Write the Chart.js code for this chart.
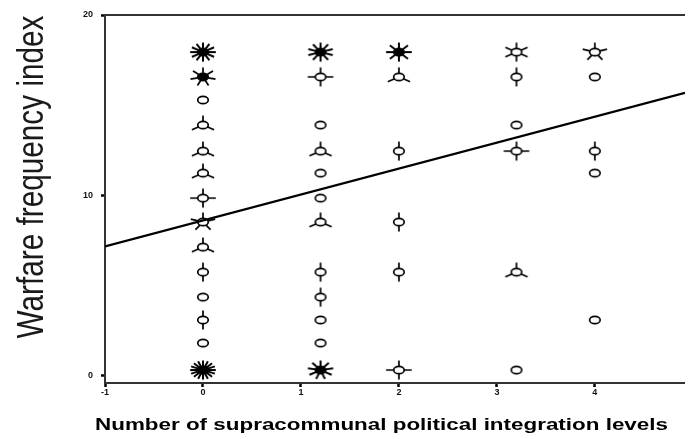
<!DOCTYPE html>
<html>
<head>
<meta charset="utf-8">
<script src="https://cdn.jsdelivr.net/npm/chart.js@4"></script>
<style>
  html, body { margin: 0; padding: 0; background: #fff; }
  #wrap { width: 690px; height: 439px; }
</style>
</head>
<body>
<div id="wrap"><canvas id="chart" width="690" height="439"></canvas></div>
<script>
const xTicks = [-1, 0, 1, 2, 3, 4];
const yTicks = [0, 10, 20];
const xTitle = 'Number of supracommunal political integration levels';
const yTitle = 'Warfare frequency index';

// sunflower cells: position, value, number of cases (petals)
const cellX = [
    0, 0, 0, 0, 0, 0, 0, 0, 0, 0, 0, 0, 0, 0,
    1.2, 1.2, 1.2, 1.2, 1.2, 1.2, 1.2, 1.2, 1.2, 1.2, 1.2, 1.2,
    2, 2, 2, 2, 2, 2,
    3.2, 3.2, 3.2, 3.2, 3.2, 3.2,
    4, 4, 4, 4, 4
];
const cellY = [
    17.94, 16.56, 15.28, 13.89, 12.44, 11.22, 9.83, 8.5, 7.11, 5.72, 4.33, 3.06, 1.78, 0.28,
    17.94, 16.56, 13.89, 12.44, 11.22, 9.83, 8.5, 5.72, 4.33, 3.06, 1.78, 0.28,
    17.94, 16.56, 12.44, 8.5, 5.72, 0.28,
    17.94, 16.56, 13.89, 12.44, 5.72, 0.28,
    17.94, 16.56, 12.44, 11.22, 3.06
];
const cellCount = [
    12, 7, 1, 3, 3, 3, 4, 5, 3, 2, 1, 2, 1, 16,
    10, 4, 1, 3, 1, 1, 3, 2, 2, 1, 1, 9,
    8, 3, 2, 2, 2, 4,
    6, 2, 1, 4, 3, 1,
    5, 1, 2, 1, 1
];

// fit line end points
const fitX = [-1, 4.92];
const fitY = [7.15, 15.68];

// build one sunflower glyph per petal count
const flowers = {};
function sunflower(n) {
    if (flowers[n]) return flowers[n];
    const c = document.createElement('canvas');
    c.width = 36;
    c.height = 28;
    const g = c.getContext('2d');
    const sx = 1.35;
    g.translate(18, 14);
    g.strokeStyle = '#000';
    g.fillStyle = '#000';
    g.lineWidth = 1.7;
    g.beginPath();
    g.ellipse(0, 0, 3.9 * sx, 3.7, 0, 0, Math.PI * 2);
    if (n >= 7) g.fill();
    g.stroke();
    if (n > 1) {
        g.lineWidth = n >= 8 ? 2 : 1.7;
        g.beginPath();
        for (let k = 0; k < n; k++) {
            const a = -Math.PI / 2 + k * 2 * Math.PI / n;
            g.moveTo(Math.cos(a) * 3.6 * sx, Math.sin(a) * 3.6);
            g.lineTo(Math.cos(a) * 9.5 * sx, Math.sin(a) * 9.5);
        }
        g.stroke();
    }
    flowers[n] = c;
    return c;
}

const framePlugin = {
    id: 'frame',
    beforeDatasetsDraw(chart) {
        const { ctx, chartArea: a } = chart;
        ctx.save();
        ctx.strokeStyle = '#333';
        ctx.lineWidth = 2;
        ctx.beginPath();
        ctx.moveTo(a.right, a.top);
        ctx.lineTo(a.left, a.top);
        ctx.lineTo(a.left, a.bottom);
        ctx.lineTo(a.right, a.bottom);
        ctx.stroke();
        ctx.restore();
    },
    afterDraw(chart) {
        const ctx = chart.ctx;
        ctx.save();
        ctx.fillStyle = '#1a1a1a';
        ctx.textAlign = 'center';
        ctx.textBaseline = 'alphabetic';
        ctx.font = '36px "Liberation Sans", Arial, sans-serif';
        let w = ctx.measureText(yTitle).width;
        ctx.translate(43, 177);
        ctx.rotate(-Math.PI / 2);
        ctx.scale(323 / w, 1);
        ctx.fillText(yTitle, 0, 0);
        ctx.restore();

        ctx.save();
        ctx.fillStyle = '#000';
        ctx.textAlign = 'left';
        ctx.font = 'bold 17px "Liberation Sans", Arial, sans-serif';
        w = ctx.measureText(xTitle).width;
        ctx.translate(95, 430);
        ctx.scale(573 / w, 1);
        ctx.fillText(xTitle, 0, 0);
        ctx.restore();
    }
};

const tickFont = { family: '"Liberation Sans", Arial, sans-serif', size: 9, weight: 'bold' };

new Chart(document.getElementById('chart'), {
    data: {
        datasets: [{
            type: 'scatter',
            data: cellX.map((x, i) => ({ x: x, y: cellY[i] })),
            pointStyle: ctx => sunflower(cellCount[ctx.dataIndex] || 1),
            pointRadius: 3,
            order: 1
        }, {
            type: 'line',
            data: fitX.map((x, i) => ({ x: x, y: fitY[i] })),
            borderColor: '#000',
            borderWidth: 2.2,
            pointRadius: 0,
            fill: false,
            order: 2
        }]
    },
    options: {
        responsive: false,
        animation: false,
        layout: { padding: { top: 15, right: 0, bottom: 0, left: 0 } },
        plugins: {
            legend: { display: false },
            tooltip: { enabled: false }
        },
        scales: {
            x: {
                type: 'linear',
                min: -1,
                max: 4.92,
                afterBuildTicks: s => { s.ticks = xTicks.map(v => ({ value: v })); },
                afterFit: s => { s.height = 56; },
                border: { display: false },
                grid: { drawOnChartArea: false, tickLength: 4, tickWidth: 2.5, tickColor: '#000' },
                ticks: { font: tickFont, color: '#111', padding: 0, maxRotation: 0 }
            },
            y: {
                type: 'linear',
                min: -0.44,
                max: 20,
                afterBuildTicks: s => { s.ticks = yTicks.map(v => ({ value: v })); },
                afterFit: s => { s.width = 105; },
                border: { display: false },
                grid: { drawOnChartArea: false, tickLength: 4, tickWidth: 2.5, tickColor: '#000' },
                ticks: { font: tickFont, color: '#111', padding: 8 }
            }
        }
    },
    plugins: [framePlugin]
});
</script>
</body>
</html>
